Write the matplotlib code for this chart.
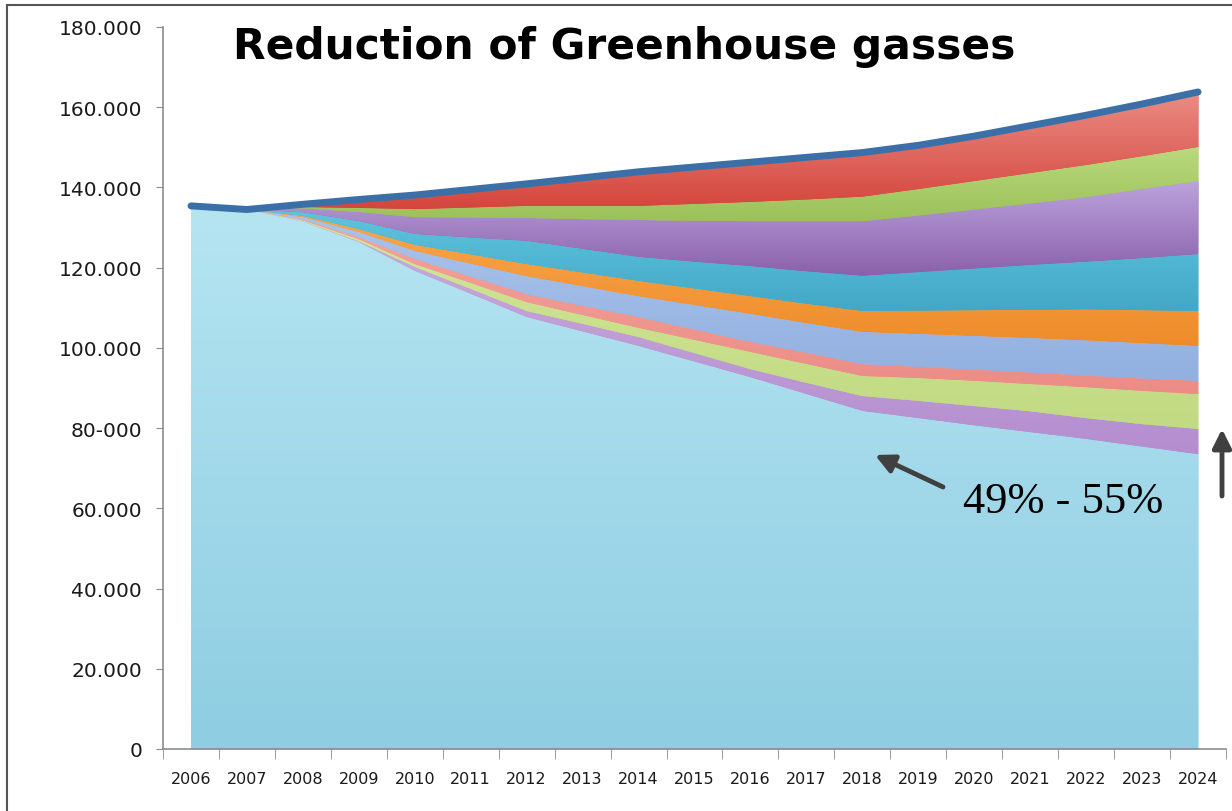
import numpy as np
import matplotlib.pyplot as plt
from matplotlib.colors import LinearSegmentedColormap
from matplotlib.lines import Line2D

years = list(range(2006, 2025))

# stacked series, bottom to top (thousand tonnes)
base        = [135.4, 134.5, 131.5, 126.4, 119.2, 113.5, 107.7, 104.1, 100.5, 96.6,
               92.7, 88.5, 84.3, 82.5, 80.7, 79.0, 77.3, 75.4, 73.5]
lavender    = [0, 0, 0.1, 0.2, 1.0, 1.2, 1.5, 1.9, 2.2, 2.1, 2.0, 2.8, 3.7, 4.3, 4.8, 5.2, 5.2, 5.6, 6.3]
light_green = [0, 0, 0.2, 0.5, 0.7, 1.5, 2.2, 2.2, 2.3, 3.3, 4.3, 4.7, 5.0, 5.7, 6.3, 6.8, 7.7, 8.3, 8.7]
salmon      = [0, 0, 0.2, 0.5, 1.3, 1.6, 2.0, 2.3, 2.7, 2.6, 2.5, 2.8, 3.0, 2.8, 2.8, 2.9, 2.9, 3.1, 3.3]
periwinkle  = [0, 0, 0.6, 1.3, 2.0, 3.2, 4.5, 4.9, 5.2, 6.1, 7.0, 7.4, 8.0, 8.2, 8.4, 8.6, 8.8, 8.8, 8.7]
orange      = [0, 0, 0.3, 0.7, 1.5, 2.3, 3.0, 3.4, 3.8, 4.1, 4.4, 4.8, 5.2, 5.8, 6.4, 7.0, 7.7, 8.2, 8.7]
teal        = [0, 0, 0.9, 2.0, 2.7, 4.2, 5.8, 5.9, 6.0, 6.7, 7.5, 8.1, 8.8, 9.6, 10.4, 11.2, 11.9, 13.0, 14.2]
purple      = [0, 0, 1.0, 2.3, 4.2, 5.0, 5.7, 7.4, 9.2, 10.2, 11.2, 12.5, 13.6, 14.1, 14.7, 15.3, 16.1, 17.2, 18.2]
green       = [0, 0, 0.3, 1.0, 2.0, 2.5, 3.0, 3.3, 3.5, 4.2, 4.8, 5.4, 6.1, 6.6, 7.1, 7.6, 8.0, 8.2, 8.5]
red         = [0, 0, 0.7, 2.1, 3.5, 4.5, 5.5, 7.0, 8.5, 9.2, 9.9, 10.5, 11.0, 10.9, 11.2, 11.8, 12.4, 13.0, 13.7]

layers = [base, lavender, light_green, salmon, periwinkle, orange, teal, purple, green, red]

# gradient colours per layer: (bottom, top)
shades = [('#8ecde2', '#b6e5f2'),
          ('#b48ecf', '#cbaede'),
          ('#c2da82', '#d3e79a'),
          ('#ec8c86', '#f4a69e'),
          ('#92b0e0', '#abc4eb'),
          ('#ef8c2a', '#f8a94f'),
          ('#43a8c7', '#60c5de'),
          ('#8a60aa', '#bba3dc'),
          ('#9bc159', '#bbd97e'),
          ('#d4453c', '#ea8c84')]

ytick_vals = [0, 20, 40, 60, 80, 100, 120, 140, 160, 180]
ytick_labels = ['0', '20.000', '40.000', '60.000', '80-000', '100.000',
                '120.000', '140.000', '160.000', '180.000']

W, H = 1232, 812
fig = plt.figure(figsize=(W / 100, H / 100), dpi=100)
fig.patch.set_facecolor('white')
ax = fig.add_axes([163 / W, 1 - 750 / H, (1226 - 163) / W, (750 - 28) / H])

x = np.array(years)
stack = np.array(layers, dtype=float)
tops = np.cumsum(stack, axis=0)
lows = tops - stack

grad = np.linspace(0, 1, 256).reshape(-1, 1)
for i in range(len(layers)):
    lo_c, hi_c = shades[i]
    poly = ax.fill_between(x, lows[i], tops[i], color=lo_c, lw=0, zorder=2)
    cmap = LinearSegmentedColormap.from_list('g%d' % i, [lo_c, hi_c])
    im = ax.imshow(grad, extent=[x[0], x[-1], lows[i].min(), tops[i].max()],
                   origin='lower', cmap=cmap, aspect='auto', zorder=2.5,
                   interpolation='bilinear')
    im.set_clip_path(poly.get_paths()[0], transform=ax.transData)

# total emissions line
ax.plot(x, tops[-1], color='#3b6fa8', lw=5, solid_capstyle='round', zorder=4)

ax.set_xlim(2005.5, 2024.5)
ax.set_ylim(0, 180)

ax.set_yticks(ytick_vals)
ax.set_yticklabels(ytick_labels, fontsize=14.5, color='#1a1a1a')
ax.set_xticks(years)
ax.set_xticklabels([str(y) for y in years], fontsize=11.5, color='#1a1a1a')
ax.set_xticks(np.arange(2005.5, 2025, 1), minor=True)
ax.tick_params(axis='x', which='major', length=0, pad=16)
ax.tick_params(axis='x', which='minor', length=7, color='#8c8c8c', direction='out')
ax.tick_params(axis='y', length=5, color='#8c8c8c', direction='out', pad=10)

for s in ['top', 'right']:
    ax.spines[s].set_visible(False)
for s in ['left', 'bottom']:
    ax.spines[s].set_color('#8c8c8c')
    ax.spines[s].set_linewidth(1.2)
ax.patch.set_alpha(0)

fig.text(233 / W, 1 - 59 / H, 'Reduction of Greenhouse gasses', fontsize=30.5,
         fontweight='bold', ha='left', va='baseline', color='black')

fig.text(963 / W, 1 - 513 / H, '49% - 55%', fontsize=32, family='Liberation Serif',
         ha='left', va='baseline', color='black')

arrow = dict(arrowstyle='-|>', lw=3.5, color='#404040', mutation_scale=28,
             shrinkA=0, shrinkB=0)
ax.annotate('', xy=(875 / W, 1 - 456 / H), xytext=(943 / W, 1 - 488 / H),
            xycoords='figure fraction', textcoords='figure fraction',
            arrowprops=arrow, annotation_clip=False)
ax.annotate('', xy=(1222 / W, 1 - 430 / H), xytext=(1222 / W, 1 - 497 / H),
            xycoords='figure fraction', textcoords='figure fraction',
            arrowprops=arrow, annotation_clip=False)

# outer frame
fig.add_artist(Line2D([7 / W, 7 / W], [0, 1 - 6 / H], color='#555555', lw=1.5))
fig.add_artist(Line2D([7 / W, 1], [1 - 6 / H, 1 - 6 / H], color='#555555', lw=1.5))

fig.savefig('out.png', dpi=100)
